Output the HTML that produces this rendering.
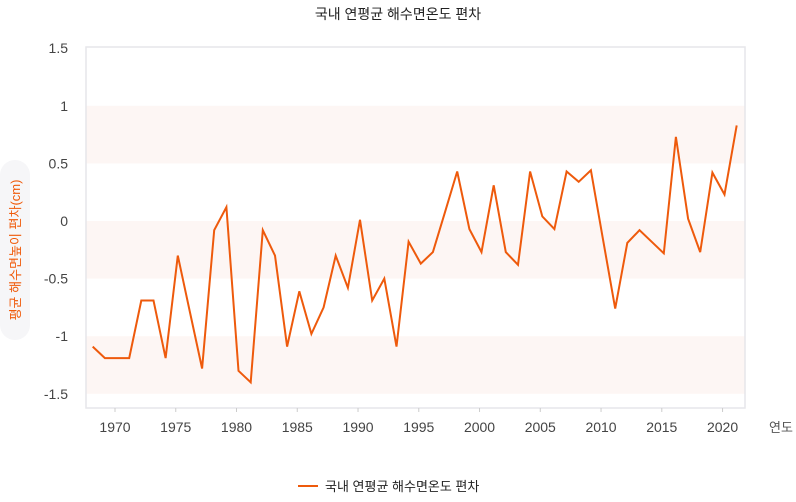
<!DOCTYPE html>
<html><head><meta charset="utf-8">
<style>
body{margin:0;background:#fff;font-family:"Liberation Sans","Noto Sans CJK KR",sans-serif;}
svg text{font-family:"Liberation Sans","Noto Sans CJK KR",sans-serif;}
</style></head>
<body>
<svg width="796" height="497" viewBox="0 0 796 497">
<text x="398" y="19" text-anchor="middle" font-size="14" fill="#222">국내 연평균 해수면온도 편차</text>
<g id="bands"></g>
<rect x="86" y="47" width="659" height="361" fill="none" stroke="#e6e6ea" stroke-width="1.5"/>
<g id="yticks"></g>
<g id="xticks"></g>
<text x="781" y="432" text-anchor="middle" font-size="13" fill="#555">연도</text>
<rect x="0" y="160" width="30" height="180" rx="15" fill="#f6f6f8"/>
<text transform="translate(20,250) rotate(-90)" text-anchor="middle" font-size="13" fill="#f05a0a">평균 해수면높이 편차(cm)</text>
<path id="line" fill="none" stroke="#ee5a0c" stroke-width="2" stroke-linejoin="miter"/>
<g>
<line x1="298" y1="486" x2="318" y2="486" stroke="#ee5a0c" stroke-width="2"/>
<text x="325" y="491" font-size="13" fill="#222">국내 연평균 해수면온도 편차</text>
</g>
</svg>
<script>
const years = [];
for (let y = 1968; y <= 2021; y++) years.push(y);
const values = [-1.09,-1.19,-1.19,-1.19,-0.69,-0.69,-1.19,-0.30,-0.79,-1.28,-0.08,0.12,-1.30,-1.40,-0.08,-0.30,-1.09,-0.61,-0.98,-0.75,-0.30,-0.58,0.01,-0.69,-0.50,-1.09,-0.18,-0.37,-0.27,0.08,0.43,-0.07,-0.27,0.31,-0.27,-0.38,0.43,0.04,-0.07,0.43,0.34,0.44,-0.16,-0.76,-0.19,-0.08,-0.18,-0.28,0.73,0.02,-0.27,0.42,0.23,0.83];
const yTicks = [1.5,1,0.5,0,-0.5,-1,-1.5];
const yTickLabels = ["1.5","1","0.5","0","-0.5","-1","-1.5"];
const xTicks = [1970,1975,1980,1985,1990,1995,2000,2005,2010,2015,2020];
const bandRanges = [[0.5,1],[-0.5,0],[-1.5,-1]];
const NS="http://www.w3.org/2000/svg";
function xs(v){return 92.7+(v-1968)*(736.7-92.7)/(2021-1968);}
function ys(v){return 221-v*115.2;}
const bands=document.getElementById('bands');
bandRanges.forEach(r=>{
 const el=document.createElementNS(NS,'rect');
 
 
 el.setAttribute('x',86);el.setAttribute('width',659);
 el.setAttribute('y',ys(r[1]));el.setAttribute('height',ys(r[0])-ys(r[1]));
 el.setAttribute('fill','#fdf6f4');bands.appendChild(el);
});
const yg=document.getElementById('yticks');
yTicks.forEach((v,i)=>{
 const t=document.createElementNS(NS,'text');
 
 
 t.setAttribute('x',68);t.setAttribute('y',ys(v)+5);
 t.setAttribute('text-anchor','end');t.setAttribute('font-size','14');t.setAttribute('fill','#444');
 t.textContent=yTickLabels[i];yg.appendChild(t);
});
const xg=document.getElementById('xticks');
xTicks.forEach(v=>{
 const l=document.createElementNS(NS,'line');
 
 
 l.setAttribute('x1',xs(v)-2);l.setAttribute('x2',xs(v)-2);l.setAttribute('y1',408);l.setAttribute('y2',412);
 l.setAttribute('stroke','#ccc');xg.appendChild(l);
 const t=document.createElementNS(NS,'text');
 
 
 t.setAttribute('x',xs(v)-2);t.setAttribute('y',432);t.setAttribute('text-anchor','middle');
 t.setAttribute('font-size','14');t.setAttribute('fill','#444');t.textContent=v;xg.appendChild(t);
});
document.getElementById('line').setAttribute('d',values.map((v,i)=>(i?'L':'M')+xs(years[i]).toFixed(1)+','+ys(v).toFixed(1)).join(''));
</script>
</body></html>
